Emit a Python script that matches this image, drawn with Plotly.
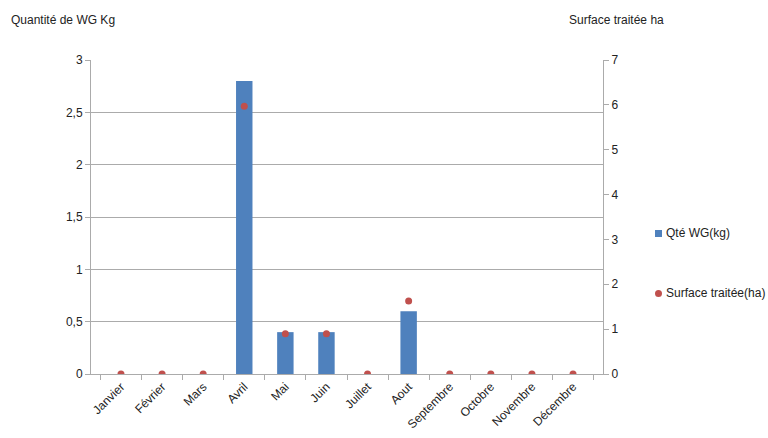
import plotly.graph_objects as go

mois = ["Janvier", "Février", "Mars", "Avril", "Mai", "Juin", "Juillet", "Aout",
        "Septembre", "Octobre", "Novembre", "Décembre"]
qte_wg = [0, 0, 0, 2.8, 0.4, 0.4, 0, 0.6, 0, 0, 0, 0]
surface = [0, 0, 0, 5.97, 0.9, 0.9, 0, 1.63, 0, 0, 0, 0]

font_family = "Liberation Sans, Arial, sans-serif"
grid_col = "#ababab"
bar_col = "#4f81bd"
dot_col = "#c0504d"

L, R, T, B = 91, 165, 60, 64
PW, PH = 768 - L - R, 438 - T - B

def px(x):
    return (x - L) / PW

def py(y):
    return (438 - B - y) / PH

fig = go.Figure()
fig.add_trace(go.Bar(
    x=mois, y=qte_wg, name="Qté WG(kg)",
    marker=dict(color=bar_col, line=dict(width=0)),
    width=0.4,
))
fig.add_trace(go.Scatter(
    x=mois, y=surface, name="Surface traitée(ha)", mode="markers",
    marker=dict(color=dot_col, size=7), yaxis="y2",
))

fig.update_layout(
    width=768, height=438,
    margin=dict(l=L, r=R, t=T, b=B),
    paper_bgcolor="white", plot_bgcolor="white",
    font=dict(family=font_family, size=12, color="#222"),
    showlegend=False,
    xaxis=dict(
        type="category", showgrid=False, showline=True, linecolor=grid_col,
        ticks="outside", tickson="boundaries", ticklen=5, tickcolor=grid_col,
        tickangle=-45, tickfont=dict(size=12), automargin=False,
    ),
    yaxis=dict(
        range=[0, 3], dtick=0.5, showgrid=True, gridcolor=grid_col, gridwidth=1,
        showline=True, linecolor=grid_col, ticks="outside", ticklen=5,
        tickcolor=grid_col, zeroline=False, tickformat=".1~f", automargin=False,
    ),
    yaxis2=dict(
        range=[0, 7], dtick=1, overlaying="y", side="right", showgrid=False,
        showline=True, linecolor=grid_col, ticks="outside", ticklen=5,
        tickcolor=grid_col, zeroline=False, automargin=False,
    ),
    separators=", ",
)

# Axis titles
fig.add_annotation(text="Quantité de WG Kg", xref="paper", yref="paper",
                   x=px(9), y=py(20), xanchor="left", yanchor="middle",
                   showarrow=False, font=dict(size=12))
fig.add_annotation(text="Surface traitée ha", xref="paper", yref="paper",
                   x=px(567), y=py(20), xanchor="left", yanchor="middle",
                   showarrow=False, font=dict(size=12))

# Legend (drawn manually so it does not shrink the plot area)
fig.add_shape(type="rect", xref="paper", yref="paper",
              x0=px(655), x1=px(662), y0=py(237), y1=py(230),
              fillcolor=bar_col, line=dict(width=0))
fig.add_annotation(text="Qté WG(kg)", xref="paper", yref="paper",
                   x=px(664), y=py(233), xanchor="left", yanchor="middle",
                   showarrow=False, font=dict(size=12))
fig.add_shape(type="circle", xref="paper", yref="paper",
              x0=px(655), x1=px(662), y0=py(297), y1=py(290),
              fillcolor=dot_col, line=dict(width=0))
fig.add_annotation(text="Surface traitée(ha)", xref="paper", yref="paper",
                   x=px(664), y=py(293), xanchor="left", yanchor="middle",
                   showarrow=False, font=dict(size=12))

fig.write_html("out.html")
